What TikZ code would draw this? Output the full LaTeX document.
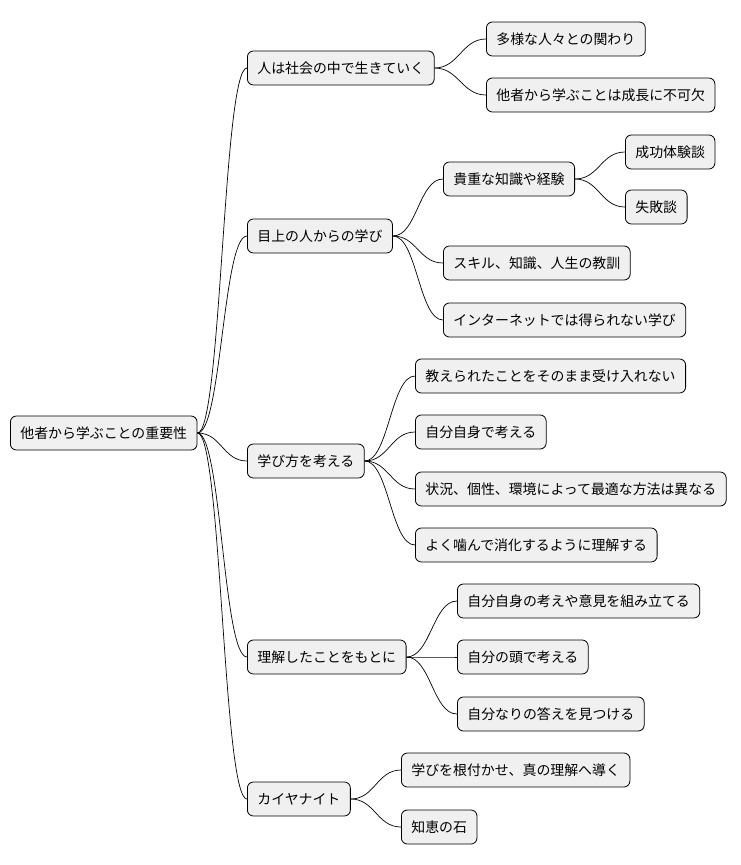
\documentclass[tikz,border=0pt]{standalone}
\usepackage{fontspec}
\newfontfamily\jpfont{Noto Sans CJK JP}
\usetikzlibrary{positioning}

\begin{document}
\begin{tikzpicture}[
    x=1pt, y=-1pt,
    topic/.style={rectangle, rounded corners=6pt, draw=black, line width=0.8pt, fill=gray!12,
        font=\jpfont\fontsize{13.9}{16}\selectfont, minimum height=34pt, inner xsep=10pt, anchor=west},
    branch/.style={draw=black, line width=0.7pt}
]
\useasboundingbox (0,0) rectangle (740,865);

% root
\node[topic] (root) at (10,433) {他者から学ぶことの重要性};

% first level
\node[topic] (society) at (247,68) {人は社会の中で生きていく};
\node[topic] (elders) at (247,236) {目上の人からの学び};
\node[topic] (howto) at (247,461) {学び方を考える};
\node[topic] (apply) at (247,657) {理解したことをもとに};
\node[topic] (kyanite) at (247,799) {カイヤナイト};

% society
\node[topic] (diverse) at (486,39) {多様な人々との関わり};
\node[topic] (growth) at (486,95) {他者から学ぶことは成長に不可欠};

% elders
\node[topic] (knowledge) at (443,179) {貴重な知識や経験};
\node[topic] (success) at (625,152) {成功体験談};
\node[topic] (failure) at (625,207) {失敗談};
\node[topic] (skills) at (443,263) {スキル、知識、人生の教訓};
\node[topic] (offline) at (443,320) {インターネットでは得られない学び};

% howto
\node[topic] (noaccept) at (415,376) {教えられたことをそのまま受け入れない};
\node[topic] (self) at (415,432) {自分自身で考える};
\node[topic] (context) at (415,489) {状況、個性、環境によって最適な方法は異なる};
\node[topic] (digest) at (415,545) {よく噛んで消化するように理解する};

% apply
\node[topic] (build) at (457,601) {自分自身の考えや意見を組み立てる};
\node[topic] (think) at (457,657) {自分の頭で考える};
\node[topic] (answer) at (457,714) {自分なりの答えを見つける};

% kyanite
\node[topic] (root2) at (401,770) {学びを根付かせ、真の理解へ導く};
\node[topic] (stone) at (401,827) {知恵の石};

% connectors
\foreach \p/\c in {root/society, root/elders, root/howto, root/apply, root/kyanite,
    society/diverse, society/growth,
    elders/knowledge, elders/skills, elders/offline,
    knowledge/success, knowledge/failure,
    howto/noaccept, howto/self, howto/context, howto/digest,
    apply/build, apply/think, apply/answer,
    kyanite/root2, kyanite/stone}
  \draw[branch] (\p.east) .. controls +(24,0) and +(-24,0) .. (\c.west);

\end{tikzpicture}
\end{document}
